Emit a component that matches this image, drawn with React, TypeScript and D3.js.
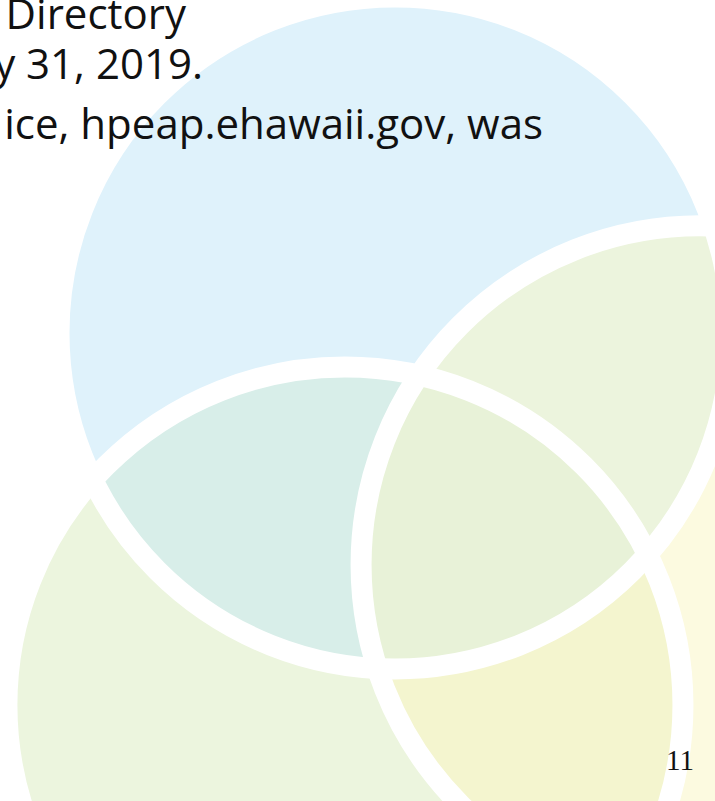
import React, { useEffect, useRef } from "react";
import * as d3 from "d3";

// three overlapping sets, centres and radii in units of the top circle's radius
const setNames = ["top", "right", "bottom"];
const setCx = [0, 0.908, -0.149];
const setCy = [0, 0.69, 1.107];
const setR = [1, 1.009, 1.006];

// every region of the diagram, listed by the sets it lies in, and its tint
const regionSets = [
  ["top"],
  ["right"],
  ["bottom"],
  ["top", "right"],
  ["top", "bottom"],
  ["right", "bottom"],
  ["top", "right", "bottom"],
];
const regionColors = ["#dff2fb", "#fcfae0", "#ecf5de", "#ecf4dd", "#d8eee9", "#f4f5cf", "#e8f2d8"];

// page text that shows through above the diagram
const textLines = ["Directory", "y 31, 2019.", "ice, hpeap.ehawaii.gov, was"];
const textRight = [186, 203, 543];
const textBaseline = [29, 79, 139];
const pageNumber = "11";

export default function App() {
  const svgRef = useRef<SVGSVGElement>(null);
  const width = 715;
  const height = 801;

  useEffect(() => {
    if (!svgRef.current) return;
    const svg = d3.select(svgRef.current);
    svg.selectAll("*").remove();

    const unit = 336;
    const x = d3.scaleLinear().domain([0, 1]).range([395, 395 + unit]);
    const y = d3.scaleLinear().domain([0, 1]).range([333, 333 + unit]);

    const circles = setNames.map((name, i) => ({
      name,
      cx: x(setCx[i]),
      cy: y(setCy[i]),
      r: setR[i] * unit,
    }));
    const byName = (n) => circles.find((c) => c.name === n);

    const defs = svg.append("defs");
    circles.forEach((c) => {
      defs.append("clipPath")
        .attr("id", "clip-" + c.name)
        .append("circle")
          .attr("cx", c.cx)
          .attr("cy", c.cy)
          .attr("r", c.r);
    });

    // fills: singles first, then the overlaps on top, each clipped by its other sets
    const fills = svg.append("g");
    regionSets.forEach((sets, i) => {
      let g = fills.append("g");
      sets.slice(0, -1).forEach((s) => {
        g = g.append("g").attr("clip-path", `url(#clip-${s})`);
      });
      const c = byName(sets[sets.length - 1]);
      g.append("circle")
        .attr("cx", c.cx)
        .attr("cy", c.cy)
        .attr("r", c.r)
        .attr("fill", regionColors[i]);
    });

    // white rings over everything
    svg.append("g")
      .selectAll("circle")
      .data(circles)
      .join("circle")
        .attr("cx", (d) => d.cx)
        .attr("cy", (d) => d.cy)
        .attr("r", (d) => d.r)
        .attr("fill", "none")
        .attr("stroke", "#fff")
        .attr("stroke-width", 21);

    svg.append("g")
      .selectAll("text")
      .data(textLines)
      .join("text")
        .attr("x", (d, i) => textRight[i])
        .attr("y", (d, i) => textBaseline[i])
        .attr("text-anchor", "end")
        .attr("font-family", "'Open Sans', sans-serif")
        .attr("font-size", 42)
        .attr("fill", "#111")
        .text((d) => d);

    svg.append("text")
      .attr("x", 666)
      .attr("y", 770)
      .attr("font-family", "'Liberation Serif', 'Times New Roman', serif")
      .attr("font-size", 29)
      .attr("fill", "#111")
      .text(pageNumber);
  }, []);

  return (
    <svg
      ref={svgRef}
      width={width}
      height={height}
      style={{ position: "absolute", left: 0, top: 0, display: "block", background: "#fff" }}
    />
  );
}
